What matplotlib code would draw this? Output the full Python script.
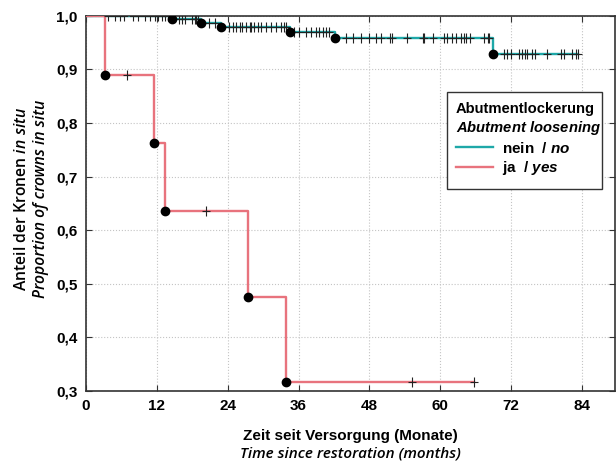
import numpy as np
import matplotlib
matplotlib.use("Agg")
import matplotlib.pyplot as plt
from matplotlib.patches import Rectangle

# Kaplan-Meier steps (months, survival)
nein_event_t = [14.6, 19.5, 22.9, 34.5, 42.1, 69.0]
nein_surv = [0.994, 0.987, 0.980, 0.969, 0.958, 0.928]
nein_censor = [3.7, 4.9, 5.7, 6.4, 7.9, 8.8, 10.0, 10.8, 11.7, 12.2, 12.8, 13.3, 13.9,
               15.7, 16.3, 16.8, 17.9, 18.4, 18.7, 19.0, 20.9, 21.8,
               24.3, 24.9, 25.4, 26.0, 26.5, 27.1, 27.7, 28.0, 28.5, 29.1, 29.7,
               30.5, 31.4, 32.2, 33.1, 33.6, 33.9,
               35.3, 36.1, 37.3, 38.1, 39.0, 39.5, 40.1, 40.7, 41.2,
               44.0, 45.2, 46.6, 48.0, 49.1, 49.9, 51.4, 51.9, 54.4, 57.0, 57.3,
               58.7, 60.6, 61.2, 62.0, 62.6, 63.5, 64.0, 64.3, 65.1, 67.4, 68.0, 68.2,
               70.8, 71.3, 71.9, 73.3, 73.9, 74.4, 74.7, 75.5, 76.1, 78.1, 80.4,
               80.9, 82.3, 82.9, 83.4]

ja_event_t = [3.2, 11.5, 13.4, 27.5, 33.9]
ja_surv = [0.889, 0.762, 0.635, 0.476, 0.317]
ja_censor = [6.9, 20.4, 55.2, 65.7]

x_ticks = [0, 12, 24, 36, 48, 60, 72, 84]
y_ticks = [0.3, 0.4, 0.5, 0.6, 0.7, 0.8, 0.9, 1.0]

teal = '#1ea8a8'
red = '#e8737d'

plt.rcParams['mathtext.fontset'] = 'custom'
plt.rcParams['mathtext.it'] = 'Liberation Sans:italic:bold'
plt.rcParams['mathtext.sf'] = 'Open Sans:italic:semibold'
plt.rcParams['mathtext.rm'] = 'Liberation Sans:bold'


def surv_at(t, ev_t, surv):
    # value of the step function at time t
    idx = np.searchsorted(ev_t, t, side='right')
    vals = np.concatenate([[1.0], surv])
    return vals[idx]


def km_curve(ax, ev_t, surv, cens, color):
    t_end = max(cens[-1], ev_t[-1])
    xs = np.concatenate([[0], ev_t, [t_end]])
    ys = np.concatenate([[1.0], surv, [surv[-1]]])
    ax.step(xs, ys, where='post', color=color, lw=1.7, zorder=3)
    ax.plot(ev_t, surv, 'o', color='black', ms=6, zorder=5)
    cy = surv_at(np.array(cens), np.array(ev_t), np.array(surv))
    ax.plot(cens, cy, '|', color='#222222', ms=6.5, mew=0.8, zorder=4)
    ax.plot(cens, cy, '_', color='#222222', ms=6, mew=0.8, zorder=4)


fig = plt.figure(figsize=(6.16, 4.61), dpi=100)
ax = fig.add_axes([0.1396, 0.1518, 0.998 - 0.1396, 0.9657 - 0.1518])

km_curve(ax, nein_event_t, nein_surv, nein_censor, teal)
km_curve(ax, ja_event_t, ja_surv, ja_censor, red)

ax.set_xlim(0, 89.55)
ax.set_ylim(0.3, 1.0)
ax.set_xticks(x_ticks)
ax.set_yticks(y_ticks)
ax.set_xticklabels([str(v) for v in x_ticks], fontfamily='Liberation Sans',
                   fontweight='bold', fontsize=11)
ax.set_yticklabels([('%.1f' % v).replace('.', ',') for v in y_ticks],
                   fontfamily='Liberation Sans', fontweight='bold', fontsize=11)
ax.tick_params(axis='both', direction='in', length=4, width=0.8, color='#333333',
               top=True, right=True, pad=6)
ax.tick_params(axis='y', which='both', right=True, labelright=False)
ax.grid(True, linestyle=':', color='#c4c4c4', lw=0.8)
for s in ax.spines.values():
    s.set_color('#333333')
    s.set_linewidth(1.2)

# axis labels (two-language)
fig.text(0.5682, 1 - 436 / 461, 'Zeit seit Versorgung (Monate)', ha='center', va='center',
         fontfamily='Liberation Sans', fontweight='bold', fontsize=11)
fig.text(0.5682, 1 - 453 / 461, 'Time since restoration (months)', ha='center', va='center',
         fontfamily='Open Sans', fontstyle='italic', fontweight='semibold', fontsize=11)
fig.text(22 / 616, 1 - 199 / 461, r'Anteil der Kronen $\mathsf{in\ situ}$', rotation=90,
         ha='center', va='center', fontfamily='Open Sans', fontweight='semibold',
         fontsize=11.3)
fig.text(41 / 616, 1 - 199 / 461, 'Proportion of crowns in situ', rotation=90,
         ha='center', va='center', fontfamily='Open Sans', fontstyle='italic',
         fontweight='semibold', fontsize=11.3)

# legend box drawn by hand so the padding matches
ax.add_patch(Rectangle((0.6827, 0.538), 0.2931, 0.259, transform=ax.transAxes,
                       facecolor='white', edgecolor='#333333', lw=1.0, zorder=6))
leg = ax.legend([plt.Line2D([], [], color=teal, lw=1.7),
                 plt.Line2D([], [], color=red, lw=1.7)],
                [r'nein  / $\mathit{no}$', r'ja  / $\mathit{yes}$'],
                title='Abutmentlockerung\n' + r'$\mathit{Abutment\ loosening}$',
                loc='upper left', bbox_to_anchor=(0.6997, 0.770), borderaxespad=0,
                prop={'family': 'Liberation Sans', 'weight': 'bold', 'size': 11},
                title_fontproperties={'family': 'Liberation Sans', 'weight': 'bold',
                                      'size': 10.6},
                handlelength=2.4, handletextpad=0.6, frameon=False,
                borderpad=0, labelspacing=0.25)
leg._legend_box.align = 'left'
leg.set_zorder(7)

fig.savefig('out.png', dpi=100)
